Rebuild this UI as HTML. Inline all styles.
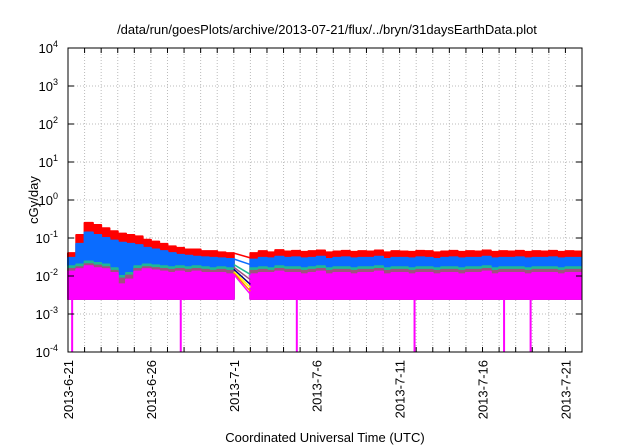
<!DOCTYPE html>
<html><head><meta charset="utf-8"><style>
body{margin:0;background:#fff}
svg{display:block;font-family:"Liberation Sans",sans-serif}
</style></head><body>
<svg id="chart" width="640" height="448" viewBox="0 0 640 448" xmlns="http://www.w3.org/2000/svg">
<rect width="640" height="448" fill="#fff"/>
<text x="327" y="34" font-size="13" text-anchor="middle">/data/run/goesPlots/archive/2013-07-21/flux/../bryn/31daysEarthData.plot</text>
<text transform="translate(38,200) rotate(-90)" font-size="13" text-anchor="middle">cGy/day</text>
<text x="325" y="442" font-size="13" text-anchor="middle">Coordinated Universal Time (UTC)</text>
<g id="grid"></g><g id="series"></g><g id="axes"></g>
</svg>
<script>
const xTickLabels=["2013-6-21","2013-6-26","2013-7-1","2013-7-6","2013-7-11","2013-7-16","2013-7-21"];
const xTickDays=[0,5,10,15,20,25,30];
const yTickExps=[-4,-3,-2,-1,0,1,2,3,4];
// half-day samples, day 0 = 2013-6-21
const redTop=[0.04,0.12,0.25,0.22,0.18,0.15,0.13,0.12,0.11,0.09,0.08,0.07,0.06,0.055,0.05,0.05,0.045,0.045,0.042,0.04,null,null,0.04,0.045,0.042,0.048,0.044,0.046,0.043,0.045,0.047,0.042,0.044,0.046,0.043,0.045,0.044,0.047,0.042,0.045,0.044,0.043,0.046,0.045,0.042,0.044,0.046,0.043,0.045,0.044,0.047,0.043,0.045,0.044,0.046,0.043,0.045,0.044,0.046,0.043,0.045,0.044];
const blueTop=[0.03,0.07,0.14,0.12,0.1,0.085,0.075,0.07,0.065,0.055,0.05,0.045,0.04,0.036,0.034,0.032,0.031,0.03,0.029,0.028,null,null,0.027,0.03,0.029,0.032,0.03,0.031,0.029,0.03,0.032,0.028,0.03,0.031,0.029,0.03,0.03,0.032,0.028,0.03,0.03,0.029,0.031,0.03,0.028,0.03,0.031,0.029,0.03,0.03,0.032,0.029,0.03,0.03,0.031,0.029,0.03,0.03,0.031,0.029,0.03,0.03];
const tealTop=[0.018,0.02,0.024,0.022,0.02,0.016,0.01,0.012,0.018,0.02,0.019,0.018,0.017,0.018,0.017,0.018,0.017,0.016,0.017,0.016,null,null,0.016,0.017,0.016,0.018,0.017,0.017,0.016,0.017,0.018,0.016,0.017,0.017,0.016,0.017,0.017,0.018,0.016,0.017,0.017,0.016,0.017,0.017,0.016,0.017,0.017,0.016,0.017,0.017,0.018,0.016,0.017,0.017,0.017,0.016,0.017,0.017,0.017,0.016,0.017,0.017];
const magTop=[0.013,0.015,0.018,0.016,0.015,0.012,0.006,0.008,0.013,0.015,0.014,0.013,0.012,0.013,0.012,0.013,0.012,0.012,0.012,0.011,null,null,0.011,0.012,0.012,0.013,0.012,0.012,0.011,0.012,0.013,0.011,0.012,0.012,0.011,0.012,0.012,0.013,0.011,0.012,0.012,0.011,0.012,0.012,0.011,0.012,0.012,0.011,0.012,0.012,0.013,0.011,0.012,0.012,0.012,0.011,0.012,0.012,0.012,0.011,0.012,0.012];
const magFloor=0.0025;
const dropDays=[0.25,6.8,13.8,20.9,26.3,27.9];
const X0=68,X1=582,Y0=48,Y1=352,DAYS=31;
const xs=d=>X0+d*(X1-X0)/DAYS;
const ys=v=>Y1-(Math.log10(v)+4)*(Y1-Y0)/8;
const NS="http://www.w3.org/2000/svg";
function mk(tag,attrs,parent){const e=document.createElementNS(NS,tag);for(const k in attrs)e.setAttribute(k,attrs[k]);parent.appendChild(e);return e;}
const grid=document.getElementById('grid'),ser=document.getElementById('series'),ax=document.getElementById('axes');
for(let d=1;d<31;d++){const l=mk('line',{x1:xs(d),x2:xs(d),y1:Y0,y2:Y1,stroke:'#bbb','stroke-dasharray':'1,2','stroke-width':1},grid);

}
yTickExps.forEach(e=>{const y=ys(Math.pow(10,e));const l=mk('line',{x1:X0,x2:X1,y1:y,y2:y,stroke:'#bbb','stroke-dasharray':'1,2'},grid);

});
function area(top,color,name){
  let seg=[];const segs=[];
  top.forEach((v,i)=>{if(v==null){if(seg.length)segs.push(seg);seg=[];}else seg.push([i*0.5,v]);});
  if(seg.length)segs.push(seg);
  segs.forEach(s=>{
    const last=s[s.length-1][0]+0.5>DAYS?DAYS:s[s.length-1][0]+0.5;
    let d=`M${xs(s[0][0])},${ys(magFloor)}`;
    s.forEach((p,j)=>{const nx=j<s.length-1?s[j+1][0]:Math.min(last,DAYS-0.05);d+=` L${xs(p[0])},${ys(p[1])} L${xs(nx)},${ys(p[1])}`;});
    d+=` L${xs(Math.min(last,DAYS-0.05))},${ys(magFloor)} Z`;
    const p=mk('path',{d:d,fill:color,stroke:color,'stroke-width':2,'stroke-linejoin':'round'},ser);
    
    
  });
}
area(redTop,'#ff0000','red-series');
area(blueTop,'#0a6cff','blue-series');
area(tealTop,'#1fb894','teal-series');
area(tealTop.map(v=>v==null?null:v*0.85),'#a05080','purple-series');
area(magTop,'#ff00ff','magenta-series');
// gap connector lines
const gapStart=10,gapEnd=11;
const gapFrom=[0.04,0.028,0.02,0.017,0.015,0.013,0.012,0.011];
const gapTo=[0.03,0.02,0.011,0.008,0.006,0.005,0.004,0.0033];
const gapColors=['#ff0000','#0a6cff','#1fb894','#a05080','#000080','#ffff00','#ff8800','#ff00ff'];
gapFrom.forEach((v,i)=>{const l=mk('line',{x1:xs(gapStart),y1:ys(v),x2:xs(gapEnd),y2:ys(gapTo[i]),stroke:gapColors[i],'stroke-width':1.5},ser);

});
dropDays.forEach(d=>{const l=mk('line',{x1:xs(d),x2:xs(d),y1:ys(magFloor),y2:Y1,stroke:'#ff00ff','stroke-width':2},ser);

});
// axes frame
const fr=mk('rect',{x:X0,y:Y0,width:X1-X0,height:Y1-Y0,fill:'none',stroke:'#000','stroke-width':1},ax);


for(let d=1;d<31;d++){mk('line',{x1:xs(d),x2:xs(d),y1:Y1,y2:Y1-5,stroke:'#000'},ax);mk('line',{x1:xs(d),x2:xs(d),y1:Y0,y2:Y0+5,stroke:'#000'},ax);}
yTickExps.forEach(e=>{const y=ys(Math.pow(10,e));
mk('line',{x1:X0,x2:X0+6,y1:y,y2:y,stroke:'#000'},ax);mk('line',{x1:X1,x2:X1-6,y1:y,y2:y,stroke:'#000'},ax);
const t=mk('text',{x:58,y:y+5,'font-size':13,'text-anchor':'end'},ax);


t.textContent='10';
const s=mk('tspan',{dy:-6,'font-size':9},t);s.textContent=String(e);});
xTickLabels.forEach((lab,i)=>{const x=xs(xTickDays[i]);
const t=mk('text',{transform:`translate(${x+5},${Y1+8}) rotate(-90)`,'font-size':13,'text-anchor':'end'},ax);


t.textContent=lab;});
</script>
</body></html>
